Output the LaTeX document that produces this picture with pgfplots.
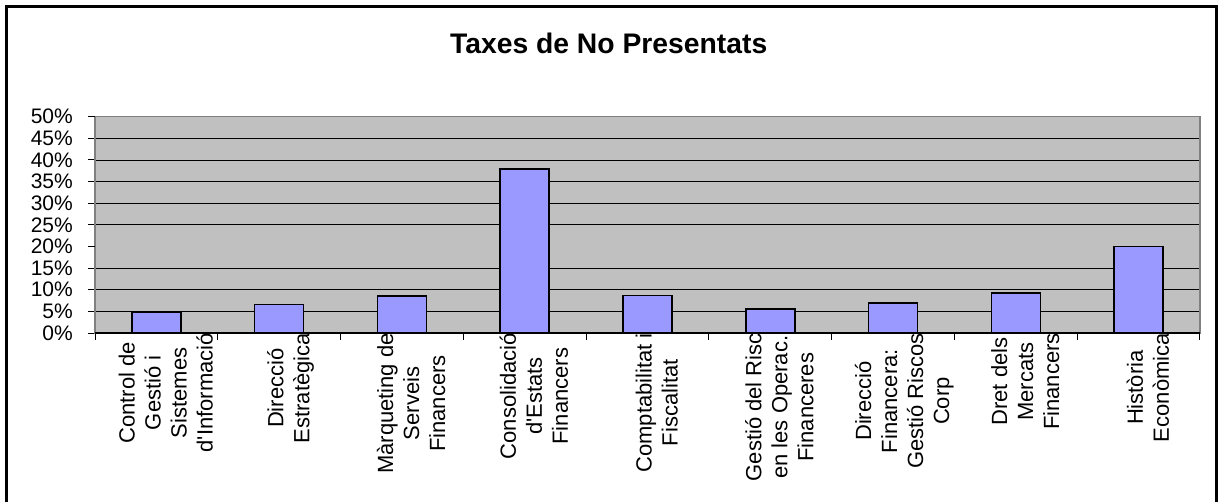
\documentclass[border=0pt]{standalone}
\usepackage{fontspec}
\setmainfont{Liberation Sans}[Ligatures=TeXOff]
\usepackage{pgfplots}
\pgfplotsset{compat=1.18}
\definecolor{bgc}{RGB}{192,192,192}
\definecolor{barc}{RGB}{153,153,255}
\definecolor{axc}{RGB}{128,128,128}
\newcommand{\xl}[1]{\fontsize{22}{26}\selectfont\begin{tabular}{@{}c@{}}#1\end{tabular}}
\begin{document}
\begin{tikzpicture}[x=1pt,y=1pt]
\begin{axis}[at={(95pt,169pt)}, anchor=south west, scale only axis,
  width=1105pt, height=216.3pt,
  xmin=-0.5, xmax=8.5, ymin=0, ymax=50,
  axis background/.style={fill=bgc},
  axis line style={draw=axc, line width=1.2pt},
  tick align=outside, tick pos=left,
  major tick length=7pt,
  tick style={black, line width=1pt},
  ytick={0,5,10,15,25,30,35,40,45},
  yticklabels={0\%,5\%,10\%,15\%,25\%,30\%,35\%,40\%,45\%},
  extra y ticks={20,50}, extra y tick labels={20\%,50\%},
  extra y tick style={grid=none},
  ymajorgrids, major grid style={black, line width=0.9pt},
  yticklabel style={font=\fontsize{21}{21}\selectfont, inner sep=0pt, xshift=-15pt},
  xtick={-0.5,0.5,...,8.5},
  xticklabels={,,,,,,,,,},
  extra x ticks={0,1,2,3,4,5,6,7,8},
  extra x tick style={major tick length=0pt, grid=none},
  extra x tick labels={
    {\xl{Control de\\Gestió i\\Sistemes\\d'Informació}},
    {\xl{Direcció\\Estratègica}},
    {\xl{Màrqueting de\\Serveis\\Financers}},
    {\xl{Consolidació\\d'Estats\\Financers}},
    {\xl{Comptabilitat i\\Fiscalitat}},
    {\xl{Gestió del Risc\\en les Operac.\\Financeres}},
    {\xl{Direcció\\Financera:\\Gestió Riscos\\Corp}},
    {\xl{Dret dels\\Mercats\\Financers}},
    {\xl{Història\\Econòmica}}},
  xticklabel style={rotate=90, anchor=east, inner sep=0pt, yshift=-12pt},
]
\addplot[ybar, bar width=49pt, fill=barc, draw=black, line width=1.6pt]
  coordinates {(0,4.9) (1,6.6) (2,8.5) (3,37.9) (4,8.7) (5,5.6) (6,6.9) (7,9.2) (8,20.0)};
\draw[black, line width=1.2pt] (axis cs:-0.5,0) -- (axis cs:8.5,0);
\end{axis}
\draw[line width=3pt] (6.5,0) -- (6.5,495) -- (1216.5,495) -- (1216.5,0);
\node[anchor=base, font=\bfseries\fontsize{28.3}{28.3}\selectfont, inner sep=0pt] at (608.7,448.7) {Taxes de No Presentats};
\path (0,0) rectangle (1221,502);
\end{tikzpicture}
\end{document}
